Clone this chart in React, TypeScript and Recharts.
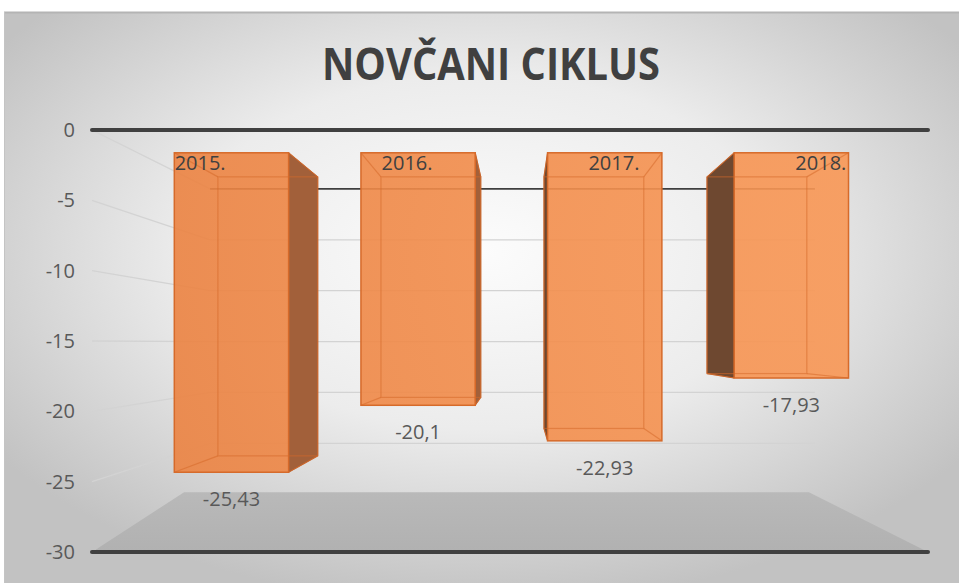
import { Bar, BarChart, LabelList, XAxis, YAxis } from 'recharts';

const W = 959;
const H = 583;
// front plane of the 3D box = recharts plot area
const PLOT = { top: 130, bottom: 552, left: 92, right: 928 };
const VP = { x: 519, y: 343 };
const D_FRONT = 0.893;
const D_BACK = 0.78;
const D_WALL = 0.7235;
const FLOOR_LEFT_SKEW = 26;

const years = ['2015.', '2016.', '2017.', '2018.'];
const values = [-25.43, -20.1, -22.93, -17.93];
const yTicks = [0, -5, -10, -15, -20, -25, -30];
const Y_MIN = -30;
const Y_MAX = 0;

const data = years.map((year, i) => ({ year, value: values[i] }));

const FONT = '"Open Sans", "Noto Sans", sans-serif';

const proj = (x: number, y: number, d: number) => [VP.x + (x - VP.x) * d, VP.y + (y - VP.y) * d];
const fmt = (v: any) => String(v).replace('.', ',');
const yFront = (v: number) => PLOT.top + ((Y_MAX - v) / (Y_MAX - Y_MIN)) * (PLOT.bottom - PLOT.top);

function Box3D(props: any) {
  const { x, y, width, height } = props;
  const top = Math.min(y, y + height);
  const bot = Math.max(y, y + height);
  const l = x;
  const r = x + width;
  const [fl, ft] = proj(l, top, D_FRONT);
  const [fr, fb] = proj(r, bot, D_FRONT);
  const [bl, bt] = proj(l, top, D_BACK);
  const [br, bb] = proj(r, bot, D_BACK);
  const leftOfVp = (l + r) / 2 < VP.x;
  const side = leftOfVp
    ? `${fr},${ft} ${br},${bt} ${br},${bb} ${fr},${fb}`
    : `${fl},${ft} ${bl},${bt} ${bl},${bb} ${fl},${fb}`;
  const edge = '#D66A2A';
  return (
    <g>
      <polygon points={side} fill={leftOfVp ? '#A2603A' : '#6E4830'} stroke="#B85E2A" strokeWidth={1} />
      <rect x={fl} y={ft} width={fr - fl} height={fb - ft} fill="url(#barFront)" fillOpacity={0.9} />
      <g stroke={edge} strokeWidth={1.2} strokeOpacity={0.55} fill="none">
        <rect x={bl} y={bt} width={br - bl} height={bb - bt} />
        <line x1={fl} y1={ft} x2={bl} y2={bt} />
        <line x1={fr} y1={ft} x2={br} y2={bt} />
        <line x1={fl} y1={fb} x2={bl} y2={bb} />
        <line x1={fr} y1={fb} x2={br} y2={bb} />
      </g>
      <rect x={fl} y={ft} width={fr - fl} height={fb - ft} fill="none" stroke={edge} strokeWidth={1.5} />
    </g>
  );
}

function ValueLabel(props: any) {
  const { x, y, width, height, value } = props;
  const bot = Math.max(y, y + height);
  const [cx, cy] = proj(x + width / 2, bot, D_FRONT);
  return (
    <text x={cx} y={cy + 34} textAnchor="middle" fontFamily={FONT} fontSize={20} fill="#595959">
      {fmt(value)}
    </text>
  );
}

function YearLabel(props: any) {
  const { x, width, value } = props;
  const cx = 510 + (x + width / 2 - 510) * 0.99;
  return (
    <text x={cx} y={PLOT.top + 40} textAnchor="middle" fontFamily={FONT} fontSize={20} fill="#404040">
      {value}
    </text>
  );
}

function YTick(props: any) {
  const { y, payload } = props;
  return (
    <text x={75} y={y + 7} textAnchor="end" fontFamily={FONT} fontSize={20} fill="#595959">
      {payload.value}
    </text>
  );
}

function Backdrop() {
  const [wl, wt] = proj(PLOT.left, PLOT.top, D_WALL);
  const [wr, wb] = proj(PLOT.right, PLOT.bottom, D_WALL);
  return (
    <svg width={W} height={H} style={{ position: 'absolute', left: 0, top: 0 }}>
      <defs>
        <radialGradient id="bg" cx="50%" cy="42%" r="62%">
          <stop offset="0" stopColor="#fcfcfc" />
          <stop offset="0.5" stopColor="#ececec" />
          <stop offset="1" stopColor="#c2c2c2" />
        </radialGradient>
        <linearGradient id="floor" x1="0" y1="0" x2="0" y2="1">
          <stop offset="0" stopColor="#b9b9b9" />
          <stop offset="1" stopColor="#b1b1b1" />
        </linearGradient>
      </defs>
      <rect x={0} y={0} width={W} height={H} fill="#ffffff" />
      <rect x={4} y={12} width={W - 4} height={H - 12} fill="url(#bg)" />
      <line x1={4} y1={12.5} x2={W} y2={12.5} stroke="#b4b4b4" strokeWidth={2} />
      <line x1={4.5} y1={12} x2={4.5} y2={H} stroke="#c4c4c4" strokeWidth={1} />
      <text x={491} y={80} textAnchor="middle" fontFamily={FONT} fontWeight={700} fontSize={45} fill="#404040" textLength={338} lengthAdjust="spacingAndGlyphs">
        NOVČANI CIKLUS
      </text>
      {yTicks.map((v) => {
        const yf = yFront(v);
        const [bx, by] = proj(PLOT.left, yf, D_WALL);
        const [rx] = proj(PLOT.right, yf, D_WALL);
        return (
          <g key={v}>
            <line x1={PLOT.left} y1={yf} x2={bx} y2={by} stroke="#d3d3d3" strokeWidth={1.3} />
            {v !== Y_MIN && (
              <line x1={bx} y1={by} x2={rx} y2={by} stroke={v === 0 ? '#3f3f3f' : '#d3d3d3'} strokeWidth={v === 0 ? 1.6 : 1.3} />
            )}
          </g>
        );
      })}
      <polygon points={`${PLOT.left},${PLOT.bottom} ${PLOT.right},${PLOT.bottom} ${wr - 6},${wb - 2} ${wl - FLOOR_LEFT_SKEW},${wb - 2}`} fill="url(#floor)" />
      <line x1={PLOT.left} y1={PLOT.top} x2={PLOT.right} y2={PLOT.top} stroke="#404040" strokeWidth={4} strokeLinecap="round" />
      <line x1={PLOT.left} y1={PLOT.bottom} x2={PLOT.right} y2={PLOT.bottom} stroke="#404040" strokeWidth={4} strokeLinecap="round" />
    </svg>
  );
}

export default function App() {
  return (
    <div style={{ position: 'relative', width: W, height: H }}>
      <style>{'body{margin:0}'}</style>
      <Backdrop />
      <div style={{ position: 'absolute', left: 0, top: 0 }}>
        <BarChart width={W} height={H} data={data} margin={{ top: PLOT.top, right: W - PLOT.right, bottom: H - PLOT.bottom, left: 0 }}>
          <defs>
            <linearGradient id="barFront" gradientUnits="userSpaceOnUse" x1={150} y1={0} x2={860} y2={0}>
              <stop offset="0" stopColor="#EB8241" />
              <stop offset="1" stopColor="#F99856" />
            </linearGradient>
          </defs>
          <XAxis dataKey="year" hide />
          <YAxis width={PLOT.left} domain={[Y_MIN, Y_MAX]} ticks={yTicks} axisLine={false} tickLine={false} tick={<YTick />} interval={0} />
          <Bar dataKey="value" barSize={128} shape={<Box3D />} isAnimationActive={false}>
            <LabelList dataKey="value" content={<ValueLabel />} />
            <LabelList dataKey="year" content={<YearLabel />} />
          </Bar>
        </BarChart>
      </div>
    </div>
  );
}
